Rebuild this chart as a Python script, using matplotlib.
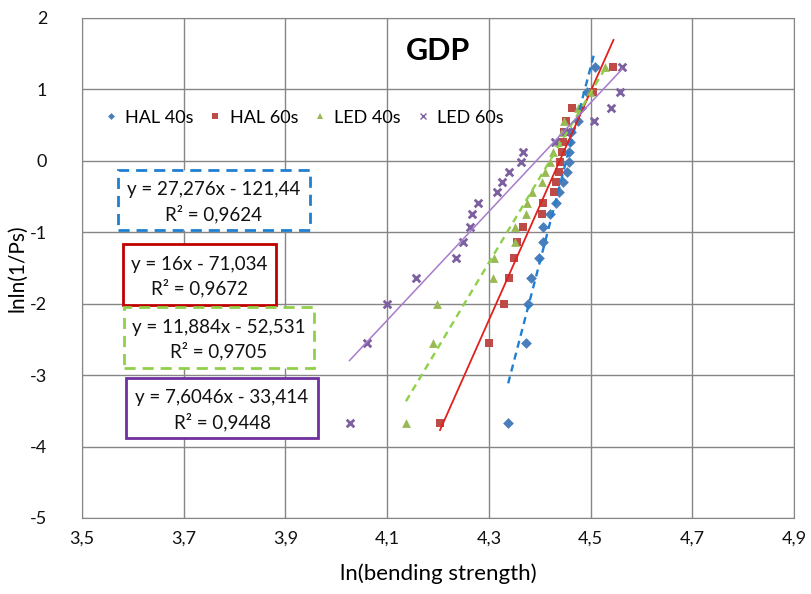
import matplotlib
matplotlib.use('Agg')
import matplotlib.pyplot as plt
from matplotlib.patches import Rectangle
from matplotlib.lines import Line2D
import numpy as np

plt.rcParams['font.family'] = ['Lato', 'DejaVu Sans']
plt.rcParams['axes.unicode_minus'] = False

# lnln(1/Ps) by rank (same for every series)
y_rank = [-3.676, -2.552, -2.013, -1.648, -1.367, -1.134, -0.934, -0.755, -0.592, -0.439,
          -0.295, -0.156, -0.019, 0.117, 0.255, 0.400, 0.556, 0.732, 0.952, 1.305]

hal40 = [4.338, 4.374, 4.376, 4.383, 4.398, 4.406, 4.407, 4.420, 4.433, 4.438,
         4.446, 4.453, 4.457, 4.458, 4.460, 4.462, 4.475, 4.482, 4.492, 4.508]
hal60 = [4.204, 4.300, 4.330, 4.339, 4.350, 4.356, 4.368, 4.404, 4.406, 4.429,
         4.432, 4.437, 4.440, 4.443, 4.445, 4.448, 4.452, 4.464, 4.505, 4.545]
led40 = [4.137, 4.190, 4.198, 4.309, 4.310, 4.352, 4.352, 4.373, 4.375, 4.385,
         4.404, 4.411, 4.420, 4.427, 4.435, 4.444, 4.447, 4.476, 4.499, 4.528]
led60 = [4.026, 4.061, 4.099, 4.156, 4.235, 4.250, 4.263, 4.266, 4.278, 4.316,
         4.325, 4.340, 4.363, 4.368, 4.431, 4.452, 4.506, 4.541, 4.557, 4.562]

names = ['HAL 40s', 'HAL 60s', 'LED 40s', 'LED 60s']
slopes = [27.276, 16.0, 11.884, 7.6046]
intercepts = [-121.44, -71.034, -52.531, -33.414]
eq_texts = ['y = 27,276x - 121,44', 'y = 16x - 71,034', 'y = 11,884x - 52,531', 'y = 7,6046x - 33,414']
r2_texts = ['R² = 0,9624', 'R² = 0,9672', 'R² = 0,9705', 'R² = 0,9448']

mark_cols = ['#4A7EBB', '#BE4B48', '#98B954', '#7D60A0']
markers = ['D', 's', '^', 'x']
msizes = [30, 38, 40, 30]
line_cols = ['#1F7FD0', '#E0201B', '#8FD04A', '#A77BCB']
line_styles = [(0, (3, 2.2)), '-', (0, (3, 2.2)), '-']
line_widths = [1.7, 1.3, 1.7, 1.1]

fig = plt.figure(figsize=(8.11, 5.94), dpi=100)
ax = fig.add_axes([82/811, 1-518/594, 712/811, 500.5/594])

series = [hal40, hal60, led40, led60]
for i, xs in enumerate(series):
    lw = 2 if markers[i] == 'x' else 0
    ax.scatter(xs, y_rank, marker=markers[i], s=msizes[i], color=mark_cols[i],
               linewidths=lw, zorder=3)

for i, xs in enumerate(series):
    xl = np.array([min(xs), max(xs)])
    ax.plot(xl, slopes[i]*xl + intercepts[i], color=line_cols[i], ls=line_styles[i],
            lw=line_widths[i], zorder=4)

ax.set_xlim(3.5, 4.9)
ax.set_ylim(-5, 2)
ax.set_xticks(np.arange(3.5, 4.91, 0.2))
ax.set_yticks(range(-5, 3))
ax.set_xticklabels([f'{v:.1f}'.replace('.', ',') for v in np.arange(3.5, 4.91, 0.2)])
ax.grid(True, color='#868686', lw=1)
ax.set_axisbelow(True)
for s in ax.spines.values():
    s.set_color('#868686')
ax.tick_params(length=0, labelsize=13, colors='#111111')
ax.tick_params(axis='x', pad=9)
ax.tick_params(axis='y', pad=25)
ax.set_xlabel('ln(bending strength)', fontsize=16, labelpad=12)
ax.set_ylabel('lnln(1/Ps)', fontsize=15, labelpad=2)

ax.text(4.2, 1.53, 'GDP', fontsize=22, fontweight='bold', ha='center', va='center')

handles = []
for i in range(4):
    handles.append(Line2D([], [], ls='none', marker=markers[i], color=mark_cols[i],
                          markersize=[3.5, 4.5, 4.5, 5][i], markeredgewidth=[0, 0, 0, 1][i]))
ax.legend(handles, names, loc='center left', bbox_to_anchor=(0.02, 0.80), ncol=4,
          frameon=False, fontsize=13, handlelength=0.8, handletextpad=0.4,
          columnspacing=0.8, borderaxespad=0)

# equation boxes (pixel boxes)
boxes = [(118, 170, 310, 230), (123, 244, 276, 305), (124, 307, 314, 368), (126, 378, 318, 438)]
box_styles = [(0, (4, 2.5)), '-', (0, (4, 2.5)), '-']
box_cols = ['#1F7FD0', '#C00000', '#8FD04A', '#7030A0']
for i, (x0, y0, x1, y1) in enumerate(boxes):
    fig.patches.append(Rectangle((x0/811, 1-y1/594), (x1-x0)/811, (y1-y0)/594,
                                 transform=fig.transFigure, fill=True, facecolor='white',
                                 edgecolor=box_cols[i], lw=2, ls=box_styles[i], zorder=5))
    cx = (x0 + x1) / 2 / 811
    fig.text(cx, 1-(y0 + (y1-y0)*0.33)/594, eq_texts[i], ha='center', va='center',
             fontsize=13.5, color='#111111', zorder=6)
    fig.text(cx, 1-(y0 + (y1-y0)*0.73)/594, r2_texts[i], ha='center', va='center',
             fontsize=13.5, color='#111111', zorder=6)

fig.savefig('out.png', dpi=100)
